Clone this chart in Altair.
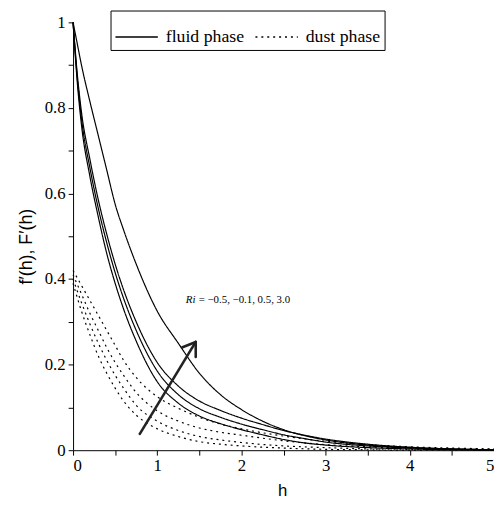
import altair as alt
import pandas as pd

# ---- data ----
h_fluid = [0, 0.05, 0.1, 0.2, 0.3, 0.4, 0.5, 0.6, 0.75, 1.0, 1.25, 1.5, 1.75, 2.0, 2.25, 2.5, 2.75, 3.0, 3.5, 4.0, 4.5, 5.0]
fluid_m05 = [1.0, 0.86, 0.76, 0.64, 0.545, 0.46, 0.39, 0.33, 0.255, 0.16, 0.11, 0.08, 0.062, 0.048, 0.036, 0.025, 0.017, 0.012, 0.006, 0.003, 0.001, 0.0]
fluid_m01 = [1.0, 0.87, 0.775, 0.66, 0.565, 0.485, 0.415, 0.355, 0.28, 0.185, 0.13, 0.097, 0.077, 0.061, 0.048, 0.036, 0.027, 0.019, 0.01, 0.005, 0.002, 0.001]
fluid_05 = [1.0, 0.88, 0.79, 0.68, 0.585, 0.505, 0.435, 0.375, 0.30, 0.205, 0.15, 0.115, 0.093, 0.075, 0.06, 0.046, 0.035, 0.026, 0.014, 0.007, 0.003, 0.001]
fluid_30 = [1.0, 0.95, 0.90, 0.815, 0.735, 0.655, 0.575, 0.515, 0.435, 0.325, 0.25, 0.18, 0.13, 0.095, 0.068, 0.048, 0.034, 0.024, 0.012, 0.006, 0.003, 0.001]

h_dust = [0, 0.1, 0.2, 0.3, 0.4, 0.5, 0.6, 0.75, 1.0, 1.25, 1.5, 1.75, 2.0, 2.5, 3.0, 3.5, 4.0, 4.5, 5.0]
dust_30 = [0.42, 0.385, 0.35, 0.315, 0.28, 0.245, 0.21, 0.17, 0.125, 0.098, 0.077, 0.061, 0.05, 0.033, 0.021, 0.013, 0.008, 0.005, 0.003]
dust_05 = [0.41, 0.365, 0.32, 0.28, 0.24, 0.205, 0.175, 0.135, 0.092, 0.068, 0.052, 0.042, 0.035, 0.022, 0.013, 0.008, 0.005, 0.003, 0.002]
dust_m01 = [0.40, 0.345, 0.295, 0.25, 0.21, 0.175, 0.145, 0.105, 0.068, 0.046, 0.032, 0.024, 0.018, 0.01, 0.006, 0.003, 0.002, 0.001, 0.001]
dust_m05 = [0.39, 0.325, 0.27, 0.22, 0.18, 0.145, 0.115, 0.082, 0.05, 0.032, 0.02, 0.014, 0.01, 0.005, 0.002, 0.001, 0.0, 0.0, 0.0]

phases = ["fluid phase", "dust phase"]

# arrow annotation (data units): shaft and two head strokes
arrow_x = [0.793, 1.293, 1.457]
arrow_y = [0.038, 0.240, 0.218]
arrow_x2 = [1.457, 1.457, 1.457]
arrow_y2 = [0.253, 0.253, 0.253]

label_x = [1.34]
label_y = [0.343]

y_ticks = [0, 0.1, 0.2, 0.3, 0.4, 0.5, 0.6, 0.7, 0.8, 0.9, 1.0]
x_ticks = [0, 0.5, 1, 1.5, 2, 2.5, 3, 3.5, 4, 4.5, 5]

SERIF = "Liberation Serif, Times New Roman, serif"

# ---- build table ----
rows = []
for name, vals in [("f-0.5", fluid_m05), ("f-0.1", fluid_m01), ("f0.5", fluid_05), ("f3.0", fluid_30)]:
    for hv, v in zip(h_fluid, vals):
        rows.append({"h": hv, "v": v, "series": name, "phase": "fluid phase"})
for name, vals in [("d3.0", dust_30), ("d0.5", dust_05), ("d-0.1", dust_m01), ("d-0.5", dust_m05)]:
    for hv, v in zip(h_dust, vals):
        rows.append({"h": hv, "v": v, "series": name, "phase": "dust phase"})
df = pd.DataFrame(rows)

xscale = alt.Scale(domain=[0, 5], nice=False)
yscale = alt.Scale(domain=[0, 1], nice=False)

x_axis = alt.Axis(
    values=x_ticks, format="~g",
    labelExpr="datum.value % 1 == 0 ? format(datum.value, '~g') : ''",
    title="h", titleX=212, titleY=46, titleBaseline="alphabetic",
    titleFont="Liberation Sans", titleFontSize=17, titleFontWeight="normal",
    labelFont=SERIF, labelFontSize=17, labelPadding=3)
y_axis = alt.Axis(
    values=y_ticks, format="~g",
    labelExpr="round(datum.value*10) % 2 == 0 ? format(datum.value, '~g') : ''",
    title="f′(h), F′(h)", titleAngle=-90, titleX=-47, titleY=227,
    titleAlign="center", titleBaseline="middle",
    titleFont="Liberation Sans", titleFontSize=18, titleFontWeight="normal",
    labelFont=SERIF, labelFontSize=17, labelPadding=3)

lines = alt.Chart(df).mark_line(color="black", strokeWidth=1.2, interpolate="monotone").encode(
    x=alt.X("h:Q", scale=xscale, axis=x_axis),
    y=alt.Y("v:Q", scale=yscale, axis=y_axis),
    strokeDash=alt.StrokeDash("phase:N", scale=alt.Scale(domain=phases, range=[[1, 0], [2, 4]]),
                              legend=alt.Legend(title=None, orient="none", direction="horizontal",
                                                legendX=38, legendY=-12, symbolType="stroke",
                                                symbolSize=1849, symbolStrokeWidth=1.5,
                                                symbolStrokeColor="black", labelOffset=7,
                                                columnPadding=8, padding=4,
                                                strokeColor="black", fillColor="white",
                                                labelFont="Liberation Serif", labelFontSize=18,
                                                labelColor="black")),
    detail="series:N",
    order="h:Q",
)

arrow_df = pd.DataFrame({"h": arrow_x, "v": arrow_y, "h2": arrow_x2, "v2": arrow_y2})
arrow = alt.Chart(arrow_df).mark_rule(color="#222222", strokeWidth=2.6, strokeCap="round").encode(
    x=alt.X("h:Q", scale=xscale, axis=x_axis), y=alt.Y("v:Q", scale=yscale, axis=y_axis),
    x2="h2:Q", y2="v2:Q")

lab_df = pd.DataFrame({"h": label_x, "v": label_y})
ri = alt.Chart(lab_df).mark_text(text="Ri", font="Liberation Serif", fontStyle="italic",
                                 fontSize=11, align="left", baseline="alphabetic", color="black").encode(
    x=alt.X("h:Q", scale=xscale, axis=x_axis), y=alt.Y("v:Q", scale=yscale, axis=y_axis))
rest = alt.Chart(lab_df).mark_text(text="= −0.5, −0.1, 0.5, 3.0", font="Liberation Serif",
                                   fontSize=11, align="left", baseline="alphabetic", dx=13, color="black").encode(
    x=alt.X("h:Q", scale=xscale, axis=x_axis), y=alt.Y("v:Q", scale=yscale, axis=y_axis))

chart = alt.layer(lines, arrow, ri, rest).properties(
    width=427, height=434,
    autosize=alt.AutoSizeParams(type="none"),
    padding={"left": 66, "top": 11, "right": 0, "bottom": 50},
    background="white",
).configure_view(stroke=None).configure_axis(
    labelFont=SERIF, labelFontSize=17, labelPadding=3, labelColor="black",
    tickSize=5, grid=False, domainColor="black", tickColor="black", titleColor="black",
)

chart.save("out.html", embed_options={"renderer": "svg", "actions": False})
